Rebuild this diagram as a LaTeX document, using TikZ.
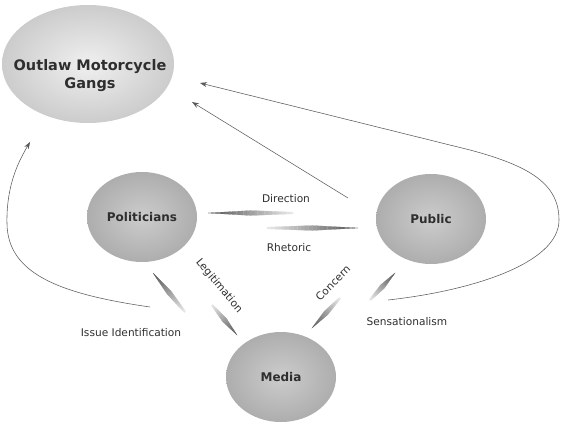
\documentclass[tikz,border=0pt]{standalone}
\usepackage{fontspec}
\setmainfont{DejaVu Sans}
\usetikzlibrary{arrows.meta,calc,shapes.geometric}
\definecolor{txt}{HTML}{2E2E2E}
\definecolor{lnc}{HTML}{5A5A5A}
\tikzset{
  bigball/.style={ellipse, minimum width=172pt, minimum height=118pt, inner color=gray!12, outer color=gray!40, draw=none},
  ball/.style={ellipse, minimum width=110pt, minimum height=90pt, inner color=gray!40, outer color=gray!64, draw=none, text=txt, font=\bfseries\fontsize{12}{14}\selectfont},
  lbl/.style={font=\fontsize{10.6}{12}\selectfont, text=txt, inner sep=1pt},
  flow/.style={draw=lnc, line width=0.55pt, -{Stealth[length=7pt,width=5pt]}},
}
\newcommand\taperarrow[2]{%
  \foreach \k in {0,...,23}{%
    \pgfmathsetmacro\ta{\k/24}%
    \pgfmathsetmacro\tb{(\k+1)/24}%
    \pgfmathsetmacro\wa{\ta<0.5 ? 0.9+1.6*\ta/0.5 : 2.5*(1-\ta)/0.5}%
    \pgfmathsetmacro\wb{\tb<0.5 ? 0.9+1.6*\tb/0.5 : 2.5*(1-\tb)/0.5}%
    \pgfmathsetmacro\sh{8+60*(\ta+\tb)/2}%
    \fill[black!\sh!white, draw=black!\sh!white, line width=0.15pt]
      ($(#2)!\ta!(#1)!\wa pt!90:(#1)$) -- ($(#2)!\tb!(#1)!\wb pt!90:(#1)$)
      -- ($(#2)!\tb!(#1)!\wb pt!-90:(#1)$) -- ($(#2)!\ta!(#1)!\wa pt!-90:(#1)$) -- cycle;
  }}
\begin{document}
\begin{tikzpicture}[x=1pt,y=1pt]
\useasboundingbox (0,0) rectangle (562,424);
% nodes
\node[bigball] (omg) at (88,360) {};
\node[font=\bfseries\fontsize{14.5}{18}\selectfont, text=txt, align=center] (omgtext) at (90,348) {Outlaw Motorcycle\\Gangs};
\node[ball] (pol) at (142,207) {Politicians};
\node[ball] (pub) at (431,205) {Public};
\node[ball] (med) at (281,47) {Media};
% tapered arrows
\coordinate (dirTip) at (208,211); \coordinate (dirTail) at (293,211);
\coordinate (rheTip) at (358,196); \coordinate (rheTail) at (267,196);
\coordinate (lguTip) at (153,151); \coordinate (lguTail) at (185,112);
\coordinate (lgdTip) at (237,89);  \coordinate (lgdTail) at (212,119);
\coordinate (conTip) at (312,96);  \coordinate (conTail) at (340,126);
\coordinate (senTip) at (395,151); \coordinate (senTail) at (370,124);
\taperarrow{dirTip}{dirTail}
\taperarrow{rheTip}{rheTail}
\taperarrow{lguTip}{lguTail}
\taperarrow{lgdTip}{lgdTail}
\taperarrow{conTip}{conTail}
\taperarrow{senTip}{senTail}
% labels
\node[lbl] (ldir) at (286,225) {Direction};
\node[lbl] (lrhe) at (289,176) {Rhetoric};
\node[lbl, rotate=-50] (lleg) at (219,138) {Legitimation};
\node[lbl, rotate=45] (lcon) at (333,141) {Concern};
\node[lbl] (lsen) at (407,102) {Sensationalism};
\node[lbl] (liss) at (131,91) {Issue Identification};
% long connectors
\coordinate (pubStart) at (348,226);
\coordinate (omgA) at (192,322);
\draw[flow] (pubStart) -- (omgA);
\coordinate (senStart) at (388,124);
\coordinate (omgB) at (200,341);
\draw[flow] (senStart) .. controls (470,133) and (559,160) .. (559,204)
  .. controls (559,240) and (530,258) .. (470,274) -- (omgB);
\coordinate (issStart) at (150,117);
\coordinate (omgC) at (30,282);
\draw[flow] (issStart) .. controls (60,130) and (8,150) .. (7,200)
  .. controls (6,240) and (20,265) .. (omgC);
\end{tikzpicture}
\end{document}
